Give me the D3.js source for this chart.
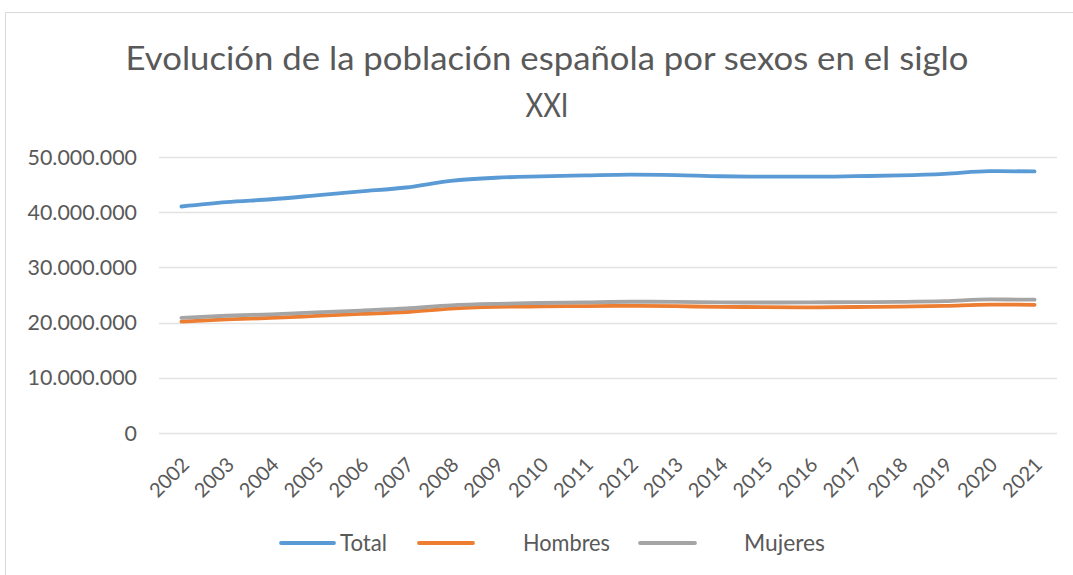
<!DOCTYPE html>
<html><head><meta charset="utf-8">
<script src="https://cdn.jsdelivr.net/npm/d3@7"></script>
<style>body{margin:0;background:#fff}svg{display:block}</style>
</head><body>
<svg id="c" width="1073" height="575"></svg>
<script>
const years = ["2002","2003","2004","2005","2006","2007","2008","2009","2010","2011","2012","2013","2014","2015","2016","2017","2018","2019","2020","2021"];
const total = [41035000,41828000,42345000,43038000,43758000,44475000,45668000,46239000,46487000,46667000,46818000,46728000,46512000,46450000,46440000,46528000,46659000,46937000,47450000,47385000];
const hombres = [20188000,20589000,20839000,21204000,21571000,21922000,22548000,22838000,22934000,22998000,23038000,22971000,22844000,22812000,22764000,22828000,22896000,23042000,23256000,23222000];
const mujeres = [20847000,21239000,21506000,21834000,22187000,22553000,23120000,23401000,23553000,23669000,23780000,23757000,23668000,23638000,23676000,23700000,23763000,23895000,24194000,24163000];
const yTicks = [0,10000000,20000000,30000000,40000000,50000000];
const seriesNames = ["Total","Hombres","Mujeres"];
const colors = ["#5B9BD5","#ED7D31","#A5A5A5"];

const svg = d3.select("#c");
const font = "Lato, 'Open Sans', sans-serif";
function stretch(f){
  return sel => sel.each(function(){
    const w = this.getComputedTextLength();
    d3.select(this).attr("textLength", w*f).attr("lengthAdjust","spacingAndGlyphs");
  });
}
// chart border
svg.append("path").attr("d","M5.5,575 V12.5 H1073").attr("fill","none").attr("stroke","#d9d9d9").attr("stroke-width",1);

// title
svg.append("text").attr("x",547).attr("y",70).attr("fill","#595959").attr("font-family",font).attr("font-size",32).attr("text-anchor","middle")
  .attr("textLength",843).attr("lengthAdjust","spacingAndGlyphs")
  .text("Evolución de la población española por sexos en el siglo");
svg.append("text").attr("x",547).attr("y",117).attr("fill","#595959").attr("font-family",font).attr("font-size",32).attr("text-anchor","middle")
  .attr("textLength",43).attr("lengthAdjust","spacingAndGlyphs").text("XXI");

const L=159, R=1057, T=157, B=433;
const x = d3.scaleBand().domain(years).range([L,R]);
const y = d3.scaleLinear().domain([0,50000000]).range([B,T]);
const fmt = v => d3.format(",")(v).replace(/,/g,".");

// gridlines
svg.append("g").selectAll("line").data(yTicks).join("line")
  .attr("x1",L).attr("x2",R).attr("y1",d=>Math.round(y(d))+0.5).attr("y2",d=>Math.round(y(d))+0.5)
  .attr("stroke","#e3e3e3").attr("stroke-width",1.5);

// y labels
svg.append("g").selectAll("text").data(yTicks).join("text")
  .attr("x",137).attr("y",d=>y(d)+7.5).attr("text-anchor","end")
  .attr("font-family",font).attr("font-size",21).attr("fill","#595959").text(fmt).call(stretch(1.02));

// x labels
svg.append("g").selectAll("text").data(years).join("text")
  .attr("transform",d=>`translate(${x(d)+x.bandwidth()/2+9},${466}) rotate(-45)`)
  .attr("text-anchor","end").attr("font-family",font).attr("font-size",20).attr("fill","#595959").text(d=>d);

const line = d3.line().x((d,i)=>x(years[i])+x.bandwidth()/2).y(d=>y(d)).curve(d3.curveMonotoneX);
[total,hombres,mujeres].forEach((s,i)=>{
  svg.append("path").attr("d",line(s)).attr("fill","none").attr("stroke",colors[i]).attr("stroke-width",3.8).attr("stroke-linecap","round");
});

// legend
const leg = [{x1:281,x2:334,tx:340,w:47},{x1:419,x2:473,tx:523,w:87},{x1:640,x2:695,tx:744,w:81}];
leg.forEach((p,i)=>{
  svg.append("line").attr("x1",p.x1).attr("x2",p.x2).attr("y1",543).attr("y2",543).attr("stroke",colors[i]).attr("stroke-width",3.8).attr("stroke-linecap","round");
  svg.append("text").attr("x",p.tx).attr("y",551).attr("font-family",font).attr("font-size",23).attr("fill","#595959")
    .attr("textLength",p.w).attr("lengthAdjust","spacingAndGlyphs").text(seriesNames[i]);
});
</script>
</body></html>
